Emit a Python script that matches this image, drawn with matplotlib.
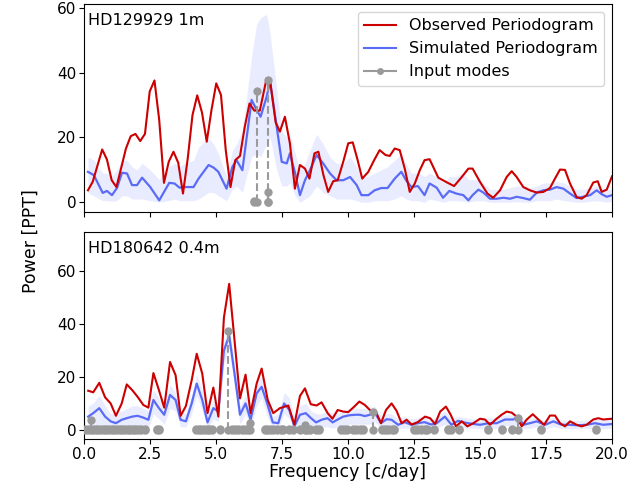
import numpy as np
import matplotlib.pyplot as plt

plt.rcParams['font.size'] = 11

# ---------------- HD129929 (top) ----------------
obs1_f = [0.15, 0.33, 0.69, 0.87, 1.05, 1.23, 1.59, 1.77, 1.95, 2.13, 2.31, 2.49, 2.67, 2.85,
          3.03, 3.21, 3.39, 3.57, 3.75, 3.93, 4.11, 4.29, 4.47, 4.65, 4.83, 5.01, 5.19, 5.37,
          5.55, 5.73, 5.91, 6.09, 6.27, 6.45, 6.66, 6.92, 7.05, 7.26, 7.42, 7.61, 7.80, 7.99,
          8.18, 8.37, 8.54, 8.73, 8.88, 9.07, 9.25, 9.44, 9.61, 9.82, 10.01, 10.18, 10.35,
          10.54, 10.77, 10.99, 11.20, 11.42, 11.58, 11.77, 11.96, 12.15, 12.34, 12.53, 12.72,
          12.90, 13.09, 13.42, 13.71, 14.02, 14.31, 14.56, 14.72, 15.00, 15.28, 15.50, 15.76,
          16.01, 16.20, 16.39, 16.64, 16.89, 17.15, 17.40, 17.65, 17.84, 18.03, 18.22, 18.41,
          18.66, 18.85, 19.04, 19.29, 19.46, 19.61, 19.80, 20.00]
obs1_p = [3.7, 6.3, 16.3, 13.2, 6.8, 4.7, 16.6, 20.4, 21.1, 18.9, 21.1, 34.2, 37.6, 25.4,
          6.0, 12.5, 15.6, 12.2, 2.7, 13.5, 26.9, 33.0, 27.7, 18.7, 28.5, 36.7, 33.1, 16.1,
          4.7, 13.0, 14.3, 23.3, 30.5, 28.3, 28.3, 38.3, 37.5, 24.7, 21.8, 26.4, 18.2, 4.2,
          11.5, 10.4, 7.3, 15.1, 15.6, 8.4, 3.2, 6.5, 6.8, 12.5, 18.2, 18.5, 13.5,
          7.3, 9.4, 13.0, 16.1, 14.6, 14.3, 16.6, 16.1, 10.4, 3.2, 5.8, 9.9,
          13.0, 13.3, 7.6, 6.3, 5.0, 7.8, 10.4, 10.4, 6.3, 2.7, 1.4, 3.7,
          7.8, 9.6, 7.8, 4.7, 3.7, 3.0, 3.2, 4.4, 7.3, 10.1, 10.0, 5.8,
          1.6, 1.1, 2.2, 6.1, 6.5, 3.2, 3.9, 8.0]

sim1_f = [0.15, 0.37, 0.71, 0.87, 1.06, 1.25, 1.44, 1.63, 1.82, 2.01, 2.20, 2.51, 2.85, 3.23,
          3.43, 3.62, 3.80, 4.15, 4.34, 4.72, 4.91, 5.09, 5.40, 5.62, 5.78, 6.00, 6.35, 6.54,
          6.69, 6.92, 7.05, 7.30, 7.49, 7.68, 7.80, 8.00, 8.18, 8.37, 8.56, 8.81, 9.06, 9.32,
          9.57, 9.82, 10.08, 10.33, 10.51, 10.77, 11.01, 11.26, 11.50, 11.77, 12.02, 12.20,
          12.40, 12.65, 12.90, 13.09, 13.36, 13.60, 13.84, 14.10, 14.37, 14.56, 14.72, 14.94,
          15.13, 15.38, 15.63, 15.89, 16.14, 16.39, 16.64, 16.89, 17.15, 17.40, 17.65, 17.90,
          18.16, 18.41, 18.66, 18.91, 19.17, 19.42, 19.61, 19.80, 20.00]
sim1_p = [9.4, 8.4, 2.9, 3.5, 2.2, 4.4, 9.1, 8.9, 5.3, 5.3, 7.6, 4.7, 0.6, 6.0,
          5.8, 4.5, 4.7, 4.7, 7.3, 11.5, 10.7, 9.4, 4.2, 10.9, 13.0, 9.9, 31.6, 28.5,
          26.4, 32.6, 37.2, 23.3, 12.5, 12.0, 15.1, 8.9, 2.2, 6.8, 9.9, 14.6, 12.0, 8.9,
          6.8, 6.8, 7.8, 5.3, 2.2, 2.2, 3.7, 4.4, 4.4, 7.3, 9.4, 6.8,
          4.7, 5.0, 2.2, 5.8, 4.5, 1.4, 3.5, 2.7, 2.2, 0.6, 2.2, 3.9,
          3.0, 1.1, 1.1, 1.4, 1.1, 1.7, 1.3, 0.8, 3.0, 3.7, 3.9, 4.7,
          4.2, 2.7, 1.3, 1.7, 2.2, 3.7, 2.5, 1.7, 2.2]
sim1_hi = [14, 13, 9, 9, 8, 10, 13, 13, 11, 10, 12, 10, 7, 11,
           12, 11, 12, 13, 17, 20, 18, 15, 8, 16, 18, 22, 45, 55,
           57, 58, 52, 35, 22, 20, 21, 15, 10, 12, 16, 21, 18, 14,
           12, 12, 14, 11, 8, 8, 9, 10, 11, 13, 15, 12,
           9, 9, 8, 9, 8, 6, 8, 8, 9, 7, 7, 7,
           6, 4, 4, 4, 4.5, 5, 5, 4.5, 5, 6, 6, 6.5,
           6, 5, 4, 4, 4.5, 5, 4.5, 4, 4]
sim1_lo = [3, 2, 0.5, 0.5, 0.3, 0.5, 2, 2, 1, 1, 1, 0.5, 0, 0.5,
           1, 0.5, 0.5, 0.5, 1, 3, 3, 2, 0.5, 4, 5, 3, 14, 15,
           14, 18, 20, 10, 5, 5, 6, 2, 0, 1, 2, 5, 3, 2,
           1, 1, 1, 0.5, 0, 0, 0.5, 0.5, 0.5, 1, 2, 1,
           0.5, 0.5, 0, 1, 0.5, 0, 0.5, 0.5, 0.3, 0, 0.3, 0.5,
           0.5, 0, 0, 0, 0, 0.2, 0, 0, 0.5, 0.5, 0.5, 1,
           0.5, 0.3, 0, 0, 0.3, 0.5, 0.3, 0, 0.3]

modes1_f = [6.43, 6.57, 6.96, 6.96]
modes1_a = [0.5, 34.4, 37.6, 3.2]

# ---------------- HD180642 (bottom) ----------------
obs2_f = [0.16, 0.35, 0.58, 0.80, 1.01, 1.21, 1.43, 1.62, 1.83, 2.03, 2.25, 2.44, 2.63, 2.84,
          3.04, 3.26, 3.47, 3.66, 3.86, 4.08, 4.27, 4.48, 4.68, 4.90, 5.09, 5.30, 5.50, 5.91,
          6.12, 6.31, 6.54, 6.73, 6.96, 7.17, 7.42, 7.74, 7.97, 8.18, 8.37, 8.59, 8.81, 9.00,
          9.23, 9.41, 9.61, 9.82, 10.01, 10.24, 10.43, 10.64, 10.83, 11.05, 11.25, 11.44,
          11.65, 11.84, 12.03, 12.22, 12.41, 12.64, 12.92, 13.11, 13.30, 13.49, 13.71, 13.89,
          14.09, 14.31, 14.52, 14.75, 15.00, 15.19, 15.38, 15.63, 15.82, 16.01, 16.20, 16.39,
          16.58, 16.77, 17.00, 17.21, 17.43, 17.65, 17.84, 18.03, 18.22, 18.41, 18.66, 18.85,
          19.04, 19.29, 19.48, 19.67, 20.00]
obs2_p = [14.7, 14.1, 17.7, 12.2, 9.9, 5.2, 9.9, 17.1, 14.9, 12.4, 9.3, 8.3, 21.4, 14.9,
          8.3, 25.6, 20.6, 5.2, 8.9, 18.7, 28.7, 21.2, 6.2, 15.9, 4.9, 42.4, 55.2, 11.8,
          20.8, 6.2, 17.4, 23.1, 11.2, 6.2, 8.1, 9.1, 1.8, 12.7, 15.6, 9.6, 9.1, 10.3,
          6.2, 4.1, 7.4, 6.8, 6.6, 8.7, 10.6, 9.3, 7.4, 6.8, 2.4, 7.4,
          9.9, 7.1, 2.4, 3.7, 1.9, 2.8, 4.9, 4.3, 2.1, 6.8, 8.7, 5.6,
          1.2, 3.1, 1.2, 2.4, 4.1, 3.8, 1.8, 4.1, 5.6, 6.8, 6.4, 4.9,
          1.2, 3.8, 5.8, 3.8, 1.8, 5.3, 5.3, 2.4, 1.2, 3.1, 1.8, 1.2,
          1.8, 3.8, 4.3, 3.8, 4.1]

sim2_f = [0.16, 0.35, 0.58, 0.80, 1.01, 1.21, 1.43, 1.62, 1.83, 2.03, 2.25, 2.44, 2.63, 2.84,
          3.04, 3.26, 3.47, 3.66, 3.86, 4.08, 4.27, 4.48, 4.68, 4.90, 5.09, 5.30, 5.50, 5.72,
          5.91, 6.12, 6.31, 6.54, 6.73, 6.94, 7.15, 7.36, 7.58, 7.78, 7.97, 8.18, 8.40, 8.60,
          8.79, 9.00, 9.22, 9.42, 9.63, 9.82, 10.05, 10.27, 10.45, 10.64, 10.83, 11.00, 11.25,
          11.46, 11.65, 11.90, 12.15, 12.40, 12.65, 12.90, 13.15, 13.36, 13.67, 13.92, 14.17,
          14.45, 14.75, 15.00, 15.32, 15.63, 15.95, 16.26, 16.45, 16.64, 16.89, 17.15, 17.46,
          17.78, 18.09, 18.41, 18.72, 19.04, 19.36, 19.67, 20.00]
sim2_p = [4.9, 6.2, 8.1, 4.9, 3.1, 2.4, 3.7, 4.3, 4.9, 5.2, 4.5, 3.7, 11.2, 8.1,
          5.6, 13.1, 11.2, 3.7, 3.1, 9.9, 17.4, 11.2, 2.7, 8.1, 6.8, 29.9, 35.6, 19.9,
          5.6, 9.9, 3.7, 13.7, 16.2, 9.9, 2.7, 2.4, 9.9, 7.4, 1.2, 5.6, 6.2, 4.3,
          2.7, 3.7, 4.3, 2.7, 3.9, 4.9, 5.4, 5.6, 5.6, 5.1, 5.6, 6.8, 2.4,
          3.9, 3.7, 1.8, 2.8, 1.8, 2.4, 2.8, 1.9, 2.4, 4.9, 1.8, 3.3,
          2.6, 2.1, 1.8, 2.4, 2.4, 3.8, 3.8, 4.9, 1.8, 2.4, 3.1, 1.8,
          3.1, 1.8, 1.8, 1.6, 1.8, 2.4, 1.8, 2.1]
sim2_hi = [9, 10, 13, 9, 6, 6, 7, 8, 9, 9, 8, 7, 15, 12,
           9, 17, 14, 7, 6, 13, 21, 15, 6, 11, 10, 33, 39, 24,
           9, 13, 7, 17, 20, 13, 5, 6, 14, 12, 4, 9, 10, 7,
           6, 6, 7, 6, 6, 7, 8, 8, 8, 8, 8, 9, 5,
           6, 6, 4, 5, 4, 4.5, 5, 4, 4.5, 7, 4, 5,
           4.5, 4, 4, 4.5, 4.5, 5.5, 5.5, 6.5, 4, 4, 4.5, 3.5,
           4.5, 3.5, 3.5, 3.5, 3.5, 4, 3.5, 4]
sim2_lo = [1, 1, 2, 1, 0.5, 0.3, 0.5, 1, 1, 1, 1, 0.5, 6, 4,
           2, 8, 7, 1, 1, 6, 13, 7, 0.5, 4, 3, 25, 31, 15,
           2, 6, 1, 9, 12, 5, 0.5, 0.5, 6, 4, 0, 2, 3, 1,
           0.5, 1, 1, 0.5, 1, 1.5, 2, 2, 2, 2, 2, 3, 0.5,
           1, 1, 0.3, 0.5, 0.3, 0.5, 0.5, 0.3, 0.5, 2, 0.3, 1,
           0.5, 0.5, 0.3, 0.5, 0.5, 1.5, 1.5, 2, 0.3, 0.5, 1, 0.3,
           1, 0.3, 0.3, 0.3, 0.3, 0.5, 0.3, 0.5]

modes2_f = [0.05, 0.15, 0.28, 0.35, 0.45, 0.55, 0.65, 0.75, 0.85, 0.95, 1.05, 1.15, 1.25,
            1.35, 1.45, 1.55, 1.65, 1.75, 1.85, 1.95, 2.05, 2.15, 2.30, 2.75, 2.85, 4.25,
            4.35, 4.45, 4.55, 4.65, 4.75, 4.85, 5.15, 5.47, 5.62, 5.72, 5.82, 5.98, 6.10,
            6.20, 6.30, 6.85, 6.95, 7.05, 7.15, 7.30, 7.45, 7.55, 7.75, 7.90, 8.20, 8.37,
            8.45, 8.55, 8.80, 8.90, 9.75, 9.85, 9.95, 10.20, 10.30, 10.45, 10.55, 10.96,
            11.30, 11.40, 11.50, 11.65, 11.75, 12.50, 12.60, 12.75, 12.90, 13.00, 13.25,
            13.80, 13.90, 14.20, 15.30, 15.85, 16.20, 16.45, 17.30, 19.40]
modes2_a = [0.3, 0.3, 3.7, 0.3, 0.3, 0.3, 0.3, 0.3, 0.3, 0.3, 0.3, 0.3, 0.3,
            0.3, 0.3, 0.3, 0.3, 0.3, 0.3, 0.3, 0.3, 0.3, 0.3, 0.3, 0.3, 0.3,
            0.3, 0.3, 0.3, 0.3, 0.3, 0.3, 0.3, 37.2, 0.3, 0.3, 0.3, 0.3, 0.3,
            0.3, 2.5, 0.3, 0.3, 0.3, 0.3, 0.3, 0.3, 0.3, 0.3, 0.3, 0.3, 1.8,
            0.3, 0.3, 0.3, 0.3, 0.3, 0.3, 0.3, 0.3, 0.3, 0.3, 0.3, 6.5,
            0.3, 0.3, 0.3, 0.3, 0.3, 0.3, 0.3, 0.3, 0.3, 0.3, 0.3,
            0.3, 0.3, 0.3, 0.3, 0.3, 0.3, 4.3, 0.3, 0.3]

panels = [
    ("HD129929 1m", obs1_f, obs1_p, sim1_f, sim1_p, sim1_lo, sim1_hi, modes1_f, modes1_a, (-2.9, 61.2)),
    ("HD180642 0.4m", obs2_f, obs2_p, sim2_f, sim2_p, sim2_lo, sim2_hi, modes2_f, modes2_a, (-3.7, 75)),
]

red = '#cc0000'
blue = '#5a6cf5'
grey = '#9a9a9a'

fig, axes = plt.subplots(2, 1, sharex=True, figsize=(6.44, 4.82), dpi=100)
fig.subplots_adjust(left=0.1304, right=0.9503, top=0.9917, bottom=0.0886, hspace=0.096)

for ax, (name, of, op, sf, sp, slo, shi, mf, ma, ylim) in zip(axes, panels):
    ax.fill_between(sf, slo, shi, color='#6a7cff', alpha=0.14, lw=0)
    ax.plot(sf, sp, color=blue, lw=1.6)
    ax.plot(of, op, color=red, lw=1.5)
    for f, a in zip(mf, ma):
        ax.plot([f, f], [0, a], '--o', color=grey, lw=1.5, ms=5, zorder=5)
    ax.text(0.008, 0.955, name, transform=ax.transAxes, va='top', ha='left', fontsize=11.5)
    ax.set_ylim(*ylim)
    ax.set_xlim(0, 20)
    ax.tick_params(pad=2)

axes[0].plot([], [], color=red, lw=1.5, label='Observed Periodogram')
axes[0].plot([], [], color=blue, lw=1.5, label='Simulated Periodogram')
axes[0].plot([], [], 'o-', color=grey, lw=1.5, ms=4, label='Input modes')
axes[0].legend(loc='upper right', fontsize=11.5)

axes[0].set_yticks([0, 20, 40, 60])
axes[1].set_yticks([0, 20, 40, 60])
axes[1].set_xticks(np.arange(0, 20.1, 2.5))
axes[1].set_xlabel('Frequency [c/day]', fontsize=12.5, labelpad=1)
fig.text(0.047, 0.5, 'Power [PPT]', rotation=90, va='center', ha='center', fontsize=12.5)

fig.savefig('out.png')
